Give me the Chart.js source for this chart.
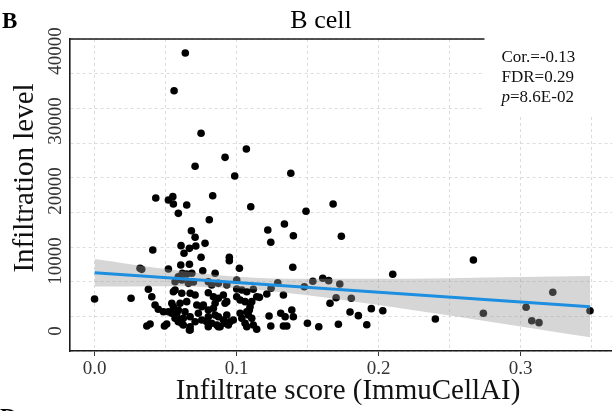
<!DOCTYPE html>
<html>
<head>
<meta charset="utf-8">
<title>B cell</title>
<script src="https://cdn.jsdelivr.net/npm/chart.js@4/dist/chart.umd.min.js"></script>
<style>
  html, body { margin: 0; padding: 0; background: #ffffff; }
  canvas { display: block; }
</style>
</head>
<body>
<canvas id="chart" width="612" height="411"></canvas>
<script>
// Samples with a high infiltration level
const scoreHigh = [0.0639,0.0560,0.0750,0.1069,0.0919,0.0708,0.0987,0.1382,0.0832,0.0431,
  0.0551,0.0520,0.0555,0.0649,0.1100,0.1680,0.1489,0.0590,0.0808,0.1337,
  0.1220,0.0682,0.1400,0.1738,0.0708,0.1241,0.0778,0.0609,0.0713,0.0668,
  0.0410,0.0630,0.0750,0.0949,0.0949,0.2668];
const levelHigh = [39710,34330,28240,26000,24810,23530,22140,22530,19330,19000,
  19190,18710,18140,18000,17760,18140,17100,16810,15900,15290,
  14430,14330,13610,13530,13390,12670,12530,12190,12140,11810,
  11570,11100,10530,10530,10040,10140];

// Samples around the fitted line
const scoreMid = [0.0668,0.0607,0.0520,0.0320,0.0332,0.1020,0.1396,0.0762,0.0849,0.0618,
  0.0649,0.0685,0.2100,0.1607,0.1649,0.1537,0.1290,0.1727,0.1477,0.1243,
  0.0614,0.0661,0.0801,0.0872,0.0931,0.1001,0.0696,0.0825,0.1001,0.0590,0.0567];
const levelMid = [9530,9430,8860,8960,8810,8960,9100,8610,8240,8240,
  8140,8240,8100,7530,7190,7100,6900,6710,6330,6100,
  7290,6810,7040,6810,6570,7290,7000,6570,6000,7760,7040];

// Samples with a low infiltration level
const scoreLow = [0.0379,0.0555,0.1118,0.1072,0.0257,0.0000,0.0403,0.1330,0.1213,0.1161,
  0.1701,0.1808,0.1658,0.3227,0.3039,0.2738,0.3489,0.3079,0.3130,0.2400,
  0.1949,0.2030,0.1799,0.1858,0.1917,0.1717,0.1579,0.1499,0.1330,0.1354,
  0.1241,0.1229,0.1311,0.1342,0.1389,0.1400,0.1090,0.1083,0.1107,0.1025,
  0.1037,0.1060,0.1072,0.1142,0.0426,0.0449,0.0485,0.0520,0.0368,0.0391,
  0.0492,0.0508];
const levelLow = [5960,5610,5960,5610,4670,4570,4900,5140,5290,4810,
  4760,4670,3960,5530,3390,2530,2900,1470,1190,1710,
  3190,2900,2710,2190,900,960,610,1100,710,710,
  710,2140,2530,2040,3000,2040,3000,2290,1810,2530,
  1810,1100,610,240,3710,3100,2760,2760,710,1000,
  710,1000];

// Dense core of samples
const scoreCore = [0.0567,0.0614,0.0673,0.0708,0.0801,0.0837,0.0872,0.0907,0.0931,0.1001,
  0.0602,0.0649,0.0590,0.0637,0.0720,0.0755,0.0849,0.0919,0.0579,0.0625,
  0.0673,0.0731,0.0801,0.0849,0.0872,0.0931,0.0614,0.0673,0.0708,0.0755,
  0.0825,0.0861,0.0919,0.0954,0.0673,0.0801,0.0872,0.0555,0.0579,0.0567,
  0.0590,0.0625,0.0668,0.0544,0.0766,0.0801,0.0837,0.0907,0.0790,0.0884,
  0.0942,0.0977,0.1072,0.1095,0.1107,0.1142,0.1118,0.1037,0.0544,0.1060,0.1025];
const levelCore = [5860,5390,5390,5140,5470,4900,4670,5140,4190,4900,
  3960,4190,3000,2760,3710,3470,3960,3960,2040,1810,
  2040,2530,2040,2290,2040,2290,1100,610,1330,1570,
  1100,860,1100,1330,140,610,610,3470,2530,1810,
  1330,860,140,2530,3710,3000,3240,1570,1330,610,
  860,1570,2760,3470,4190,4900,860,5860,3960,4190,4430];

// Linear fit and its confidence band
const fitScore = [0, 0.349];
const fitLevel = [8330, 3470];
const bandScore = [0, 0.05, 0.1, 0.15, 0.2, 0.25, 0.3, 0.349];
const bandUpper = [10300, 8850, 7750, 7450, 7450, 7550, 7700, 7850];
const bandLower = [6350, 6400, 6100, 5100, 3700, 2200, 650, -900];

// Axis labels
const xTickLabels = ['0.0', '0.1', '0.2', '0.3'];
const yTickLabels = ['0', '10000', '20000', '30000', '40000'];
const statLines = ['Cor.=-0.13', 'FDR=0.29', '=8.6E-02'];

const SERIF = '"Liberation Serif", "Times New Roman", serif';

function pairs(xs, ys) { return xs.map((x, i) => ({ x, y: ys[i] })); }
const samples = [].concat(
  pairs(scoreHigh, levelHigh), pairs(scoreMid, levelMid),
  pairs(scoreLow, levelLow), pairs(scoreCore, levelCore));

function isLabelled(list, value) {
  return list.some(t => Math.abs(parseFloat(t) - value) < 1e-9);
}

// keep the plot area exactly where the layout padding puts it
function fixBox(size, isX) {
  return s => {
    if (isX) s.height = size; else s.width = size;
    s.paddingLeft = 0; s.paddingRight = 0; s.paddingTop = 0; s.paddingBottom = 0;
  };
}

const textPlugin = {
  id: 'panelText',
  afterDraw(chart) {
    const { ctx, chartArea: area } = chart;
    const ys = chart.scales.y;
    ctx.save();

    // top frame line of the panel
    ctx.strokeStyle = '#1a1a1a';
    ctx.lineWidth = 1.6;
    ctx.beginPath();
    ctx.moveTo(area.left - 0.8, area.top);
    ctx.lineTo(area.right, area.top);
    ctx.stroke();

    // white box holding the correlation statistics
    ctx.fillStyle = '#ffffff';
    ctx.fillRect(484.5, 30, chart.width - 484.5, 85);

    ctx.fillStyle = '#111111';
    ctx.textBaseline = 'alphabetic';
    ctx.textAlign = 'left';
    ctx.font = '17px ' + SERIF;
    ctx.fillText(statLines[0], 501.5, 62);
    ctx.fillText(statLines[1], 501.5, 82);
    ctx.font = 'italic 17px ' + SERIF;
    ctx.fillText('p', 501.5, 102);
    const pw = ctx.measureText('p').width;
    ctx.font = '17px ' + SERIF;
    ctx.fillText(statLines[2], 501.5 + pw, 102);

    // panel letters and title
    ctx.fillStyle = '#000000';
    ctx.font = 'bold 23px ' + SERIF;
    ctx.fillText('B', 2, 28);
    ctx.fillText('D', 0, 424);
    ctx.font = '26px ' + SERIF;
    ctx.textAlign = 'center';
    ctx.fillText('B cell', 321, 28);

    // y tick labels, rotated
    ctx.fillStyle = '#333333';
    ctx.font = '19px ' + SERIF;
    yTickLabels.forEach(lbl => {
      const py = ys.getPixelForValue(Number(lbl));
      ctx.save();
      ctx.translate(61, py);
      ctx.rotate(-Math.PI / 2);
      ctx.textAlign = 'center';
      ctx.fillText(lbl, 0, 0);
      ctx.restore();
    });

    // axis titles
    ctx.fillStyle = '#111111';
    ctx.font = '29px ' + SERIF;
    ctx.save();
    ctx.translate(33, 178);
    ctx.rotate(-Math.PI / 2);
    ctx.textAlign = 'center';
    ctx.fillText('Infiltration level', 0, 0);
    ctx.restore();
    ctx.textAlign = 'center';
    ctx.fillText('Infiltrate score (ImmuCellAI)', 348, 399);

    ctx.restore();
  }
};

const gridColor = '#d4d4d4';

new Chart(document.getElementById('chart'), {
  type: 'scatter',
  data: {
    datasets: [
      {
        type: 'line', label: 'fit', data: pairs(fitScore, fitLevel),
        borderColor: '#1e8fe0', borderWidth: 3, pointRadius: 0, fill: false, order: 1
      },
      {
        type: 'line', label: 'band upper', data: pairs(bandScore, bandUpper),
        borderColor: 'rgba(0,0,0,0)', borderWidth: 0, pointRadius: 0,
        cubicInterpolationMode: 'monotone',
        fill: '+1', backgroundColor: 'rgba(153,153,153,0.4)', order: 2
      },
      {
        type: 'line', label: 'band lower', data: pairs(bandScore, bandLower),
        borderColor: 'rgba(0,0,0,0)', borderWidth: 0, pointRadius: 0,
        cubicInterpolationMode: 'monotone', fill: false, order: 2
      },
      {
        type: 'scatter', label: 'samples', data: samples,
        pointRadius: 3.8, pointBackgroundColor: '#000000', backgroundColor: '#000000',
        pointBorderWidth: 0, borderWidth: 0, order: 3
      }
    ]
  },
  options: {
    responsive: false,
    animation: false,
    events: [],
    layout: { padding: { top: 39, right: 0, bottom: 0, left: 0 }, autoPadding: false },
    plugins: { legend: { display: false }, tooltip: { enabled: false }, title: { display: false } },
    scales: {
      x: {
        type: 'linear', min: -0.0173, max: 0.3644,
        afterFit: fixBox(60, true),
        ticks: {
          stepSize: 0.05, includeBounds: false, autoSkip: false,
          maxRotation: 0, minRotation: 0, padding: 2,
          color: '#333333', font: { family: SERIF, size: 19 },
          callback(v) {
            const hit = xTickLabels.find(t => Math.abs(parseFloat(t) - v) < 1e-9);
            return hit === undefined ? '' : hit;
          }
        },
        grid: {
          color: gridColor, lineWidth: 0.8, drawTicks: true, tickLength: 5, tickWidth: 1,
          tickColor: c => (c.tick && isLabelled(xTickLabels, c.tick.value)) ? '#333333' : 'rgba(0,0,0,0)'
        },
        border: { display: true, color: '#1a1a1a', width: 1.6, dash: [3, 3] }
      },
      y: {
        type: 'linear', min: -2857, max: 41714,
        afterFit: fixBox(70, false),
        ticks: { stepSize: 5000, includeBounds: false, display: false },
        grid: {
          color: gridColor, lineWidth: 0.8, drawTicks: true, tickLength: 5, tickWidth: 1,
          tickColor: c => (c.tick && isLabelled(yTickLabels, c.tick.value)) ? '#333333' : 'rgba(0,0,0,0)'
        },
        border: { display: true, color: '#1a1a1a', width: 1.6, dash: [3, 3] }
      }
    }
  },
  plugins: [textPlugin]
});
</script>
</body>
</html>
